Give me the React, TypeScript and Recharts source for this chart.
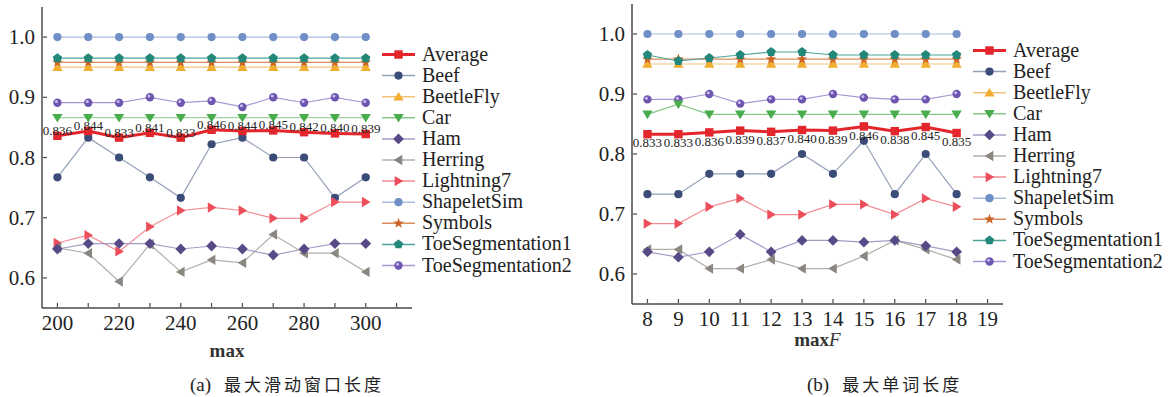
import React from "react";
import { LabelList, Line, LineChart, XAxis, YAxis } from "recharts";

// (a) max sliding window length
const leftX = [200, 210, 220, 230, 240, 250, 260, 270, 280, 290, 300];
const leftAverage = [0.836, 0.844, 0.833, 0.841, 0.833, 0.846, 0.844, 0.845, 0.842, 0.84, 0.839];
const leftBeef = [0.767, 0.833, 0.8, 0.767, 0.733, 0.822, 0.833, 0.8, 0.8, 0.733, 0.767];
const leftBeetleFly = [0.95, 0.95, 0.95, 0.95, 0.95, 0.95, 0.95, 0.95, 0.95, 0.95, 0.95];
const leftCar = [0.866, 0.866, 0.866, 0.866, 0.866, 0.866, 0.866, 0.866, 0.866, 0.866, 0.866];
const leftHam = [0.648, 0.657, 0.657, 0.657, 0.648, 0.653, 0.648, 0.638, 0.648, 0.657, 0.657];
const leftHerring = [0.65, 0.641, 0.594, 0.656, 0.61, 0.63, 0.625, 0.672, 0.641, 0.641, 0.61];
const leftLightning7 = [0.658, 0.671, 0.644, 0.685, 0.712, 0.717, 0.712, 0.699, 0.699, 0.726, 0.726];
const leftShapeletSim = [1, 1, 1, 1, 1, 1, 1, 1, 1, 1, 1];
const leftSymbols = [0.958, 0.958, 0.958, 0.958, 0.958, 0.958, 0.958, 0.958, 0.958, 0.958, 0.958];
const leftToe1 = [0.965, 0.965, 0.965, 0.965, 0.965, 0.965, 0.965, 0.965, 0.965, 0.965, 0.965];
const leftToe2 = [0.891, 0.891, 0.891, 0.9, 0.891, 0.894, 0.884, 0.9, 0.891, 0.9, 0.891];
const leftTicks = [200, 210, 220, 230, 240, 250, 260, 270, 280, 290, 300, 310];
const leftTickLabels = ["200", "", "220", "", "240", "", "260", "", "280", "", "300", ""];

// (b) max word length
const rightX = [8, 9, 10, 11, 12, 13, 14, 15, 16, 17, 18];
const rightAverage = [0.833, 0.833, 0.836, 0.839, 0.837, 0.84, 0.839, 0.846, 0.838, 0.845, 0.835];
const rightBeef = [0.733, 0.733, 0.767, 0.767, 0.767, 0.8, 0.767, 0.822, 0.733, 0.8, 0.733];
const rightBeetleFly = [0.95, 0.95, 0.95, 0.95, 0.95, 0.95, 0.95, 0.95, 0.95, 0.95, 0.95];
const rightCar = [0.866, 0.883, 0.866, 0.866, 0.866, 0.866, 0.866, 0.866, 0.866, 0.866, 0.866];
const rightHam = [0.637, 0.628, 0.637, 0.666, 0.637, 0.656, 0.656, 0.653, 0.656, 0.647, 0.637];
const rightHerring = [0.641, 0.641, 0.609, 0.609, 0.624, 0.609, 0.609, 0.63, 0.656, 0.641, 0.624];
const rightLightning7 = [0.684, 0.684, 0.712, 0.726, 0.699, 0.699, 0.716, 0.716, 0.699, 0.726, 0.712];
const rightShapeletSim = [1, 1, 1, 1, 1, 1, 1, 1, 1, 1, 1];
const rightSymbols = [0.958, 0.958, 0.958, 0.958, 0.958, 0.958, 0.958, 0.958, 0.958, 0.958, 0.958];
const rightToe1 = [0.965, 0.955, 0.96, 0.965, 0.97, 0.97, 0.965, 0.965, 0.965, 0.965, 0.965];
const rightToe2 = [0.891, 0.891, 0.9, 0.884, 0.891, 0.891, 0.9, 0.894, 0.891, 0.891, 0.9];
const rightTicks = [8, 9, 10, 11, 12, 13, 14, 15, 16, 17, 18, 19];

const yTicks = [0.6, 0.7, 0.8, 0.9, 1.0];

const SERIF = "Liberation Serif";
const CJK = "Noto Sans CJK SC";

type Marker = "square" | "circle" | "up" | "down" | "diamond" | "left" | "right" | "star" | "pentagon" | "ball";

const styles: Record<string, { marker: Marker; fill: string; line: string; width: number }> = {
  Average: { marker: "square", fill: "#e3262b", line: "#e3262b", width: 3 },
  Beef: { marker: "circle", fill: "#3b4c78", line: "#93a0b8", width: 1.2 },
  BeetleFly: { marker: "up", fill: "#f0ad2e", line: "#f3c477", width: 1.2 },
  Car: { marker: "down", fill: "#49ad4d", line: "#86c988", width: 1.2 },
  Ham: { marker: "diamond", fill: "#574a86", line: "#a59cc6", width: 1.2 },
  Herring: { marker: "left", fill: "#8a8781", line: "#b3afa9", width: 1.2 },
  Lightning7: { marker: "right", fill: "#ec4f5b", line: "#f28d94", width: 1.2 },
  ShapeletSim: { marker: "circle", fill: "#6f8fc6", line: "#aabde0", width: 1.2 },
  Symbols: { marker: "star", fill: "#cc6426", line: "#da8c5c", width: 1.2 },
  ToeSegmentation1: { marker: "pentagon", fill: "#23877a", line: "#4aa597", width: 1.2 },
  ToeSegmentation2: { marker: "ball", fill: "#6e56b0", line: "#a797d2", width: 1.2 },
};

const names = Object.keys(styles);

function pts(list: number[][], cx: number, cy: number) {
  return list.map(([x, y]) => `${cx + x},${cy + y}`).join(" ");
}

function MarkerShape({ kind, cx, cy, fill }: { kind: Marker; cx: number; cy: number; fill: string }) {
  switch (kind) {
    case "square":
      return <rect x={cx - 4.2} y={cy - 4.2} width={8.4} height={8.4} fill={fill} />;
    case "circle":
      return <circle cx={cx} cy={cy} r={4.1} fill={fill} />;
    case "ball":
      return (
        <g>
          <circle cx={cx} cy={cy} r={4.2} fill={fill} />
          <circle cx={cx - 1} cy={cy - 1.2} r={1.5} fill="#c9bdf0" />
        </g>
      );
    case "up":
      return <polygon points={pts([[0, -4.8], [5.2, 3.8], [-5.2, 3.8]], cx, cy)} fill={fill} />;
    case "down":
      return <polygon points={pts([[0, 4.8], [5.2, -3.8], [-5.2, -3.8]], cx, cy)} fill={fill} />;
    case "left":
      return <polygon points={pts([[-4.8, 0], [3.8, -5.2], [3.8, 5.2]], cx, cy)} fill={fill} />;
    case "right":
      return <polygon points={pts([[4.8, 0], [-3.8, -5.2], [-3.8, 5.2]], cx, cy)} fill={fill} />;
    case "diamond":
      return <polygon points={pts([[0, -5.4], [5.4, 0], [0, 5.4], [-5.4, 0]], cx, cy)} fill={fill} />;
    case "pentagon": {
      const p = [0, 1, 2, 3, 4].map((i) => {
        const a = -Math.PI / 2 + (i * 2 * Math.PI) / 5;
        return [4.9 * Math.cos(a), 4.9 * Math.sin(a)];
      });
      return <polygon points={pts(p, cx, cy)} fill={fill} />;
    }
    case "star": {
      const p = Array.from({ length: 10 }, (_, i) => {
        const a = -Math.PI / 2 + (i * Math.PI) / 5;
        const r = i % 2 === 0 ? 5.5 : 2.3;
        return [r * Math.cos(a), r * Math.sin(a)];
      });
      return <polygon points={pts(p, cx, cy)} fill={fill} />;
    }
  }
  return null;
}

function LegendBox({ left, top }: { left: number; top: number }) {
  return (
    <svg
      width={200}
      height={240}
      style={{ position: "absolute", left, top, overflow: "visible" }}
    >
      {names.map((n, i) => {
        const s = styles[n];
        const cy = 10.5 + i * 21.1;
        return (
          <g key={n}>
            <line x1={0} x2={33} y1={cy} y2={cy} stroke={s.line} strokeWidth={n === "Average" ? 3 : 1.5} />
            <MarkerShape kind={s.marker} cx={16.5} cy={cy} fill={s.fill} />
            <text x={40} y={cy + 6} fontFamily={SERIF} fontSize={20} fill="#222">
              {n}
            </text>
          </g>
        );
      })}
    </svg>
  );
}

function buildRows(xs: number[], cols: Record<string, number[]>) {
  return xs.map((x, i) => {
    const row: Record<string, number> = { x };
    for (const k of Object.keys(cols)) row[k] = cols[k][i];
    return row;
  });
}

const leftRows = buildRows(leftX, {
  Average: leftAverage,
  Beef: leftBeef,
  BeetleFly: leftBeetleFly,
  Car: leftCar,
  Ham: leftHam,
  Herring: leftHerring,
  Lightning7: leftLightning7,
  ShapeletSim: leftShapeletSim,
  Symbols: leftSymbols,
  ToeSegmentation1: leftToe1,
  ToeSegmentation2: leftToe2,
});

const rightRows = buildRows(rightX, {
  Average: rightAverage,
  Beef: rightBeef,
  BeetleFly: rightBeetleFly,
  Car: rightCar,
  Ham: rightHam,
  Herring: rightHerring,
  Lightning7: rightLightning7,
  ShapeletSim: rightShapeletSim,
  Symbols: rightSymbols,
  ToeSegmentation1: rightToe1,
  ToeSegmentation2: rightToe2,
});

const drawOrder = [
  "ShapeletSim",
  "BeetleFly",
  "Symbols",
  "ToeSegmentation1",
  "ToeSegmentation2",
  "Car",
  "Beef",
  "Lightning7",
  "Herring",
  "Ham",
  "Average",
];

function XTick(props: any) {
  const { x, y, payload, fmt } = props;
  const label = fmt(payload.value);
  return (
    <g>
      <line x1={x} x2={x} y1={y - 1} y2={y - 5} stroke="#4a4a4a" strokeWidth={1.2} />
      {label && (
        <text x={x} y={y + 22} textAnchor="middle" fontFamily={SERIF} fontSize={21} fill="#222">
          {label}
        </text>
      )}
    </g>
  );
}

function YTick(props: any) {
  const { x, y, payload } = props;
  return (
    <g>
      <line x1={x + 1} x2={x + 5} y1={y} y2={y} stroke="#4a4a4a" strokeWidth={1.2} />
      <text x={x - 7} y={y + 7} textAnchor="end" fontFamily={SERIF} fontSize={21} fill="#222">
        {Number(payload.value).toFixed(1)}
      </text>
    </g>
  );
}

function Panel({
  rows,
  width,
  margin,
  xDomain,
  xTicks,
  xFormat,
  xLabel,
  labelDy,
  avgPos,
}: {
  rows: Record<string, number>[];
  width: number;
  margin: { top: number; right: number; bottom: number; left: number };
  xDomain: [number, number];
  xTicks: number[];
  xFormat: (v: number) => string;
  xLabel: React.ReactNode;
  labelDy: number;
  avgPos: "top" | "bottom";
}) {
  return (
    <LineChart width={width} height={397} data={rows} margin={margin}>
      <XAxis
        dataKey="x"
        type="number"
        domain={xDomain}
        ticks={xTicks}
        interval={0}
        allowDataOverflow
        height={50}
        stroke="#4a4a4a"
        strokeWidth={1.5}
        tickLine={false}
        tickSize={0}
        tickMargin={0}
        tick={(p: any) => <XTick {...p} fmt={xFormat} />}
        label={{
          content: (p: any) => {
            const vb = p.viewBox || { x: 0, y: 0, width: 0 };
            return (
              <text
                x={vb.x + vb.width / 2}
                y={vb.y + labelDy}
                textAnchor="middle"
                fontFamily={SERIF}
                fontSize={19}
                fontWeight="bold"
                fill="#333"
              >
                {xLabel}
              </text>
            );
          },
        }}
      />
      <YAxis
        type="number"
        domain={[0.55, 1.05]}
        ticks={yTicks}
        width={42}
        allowDataOverflow
        stroke="#4a4a4a"
        strokeWidth={1.5}
        tickLine={false}
        tickSize={0}
        tickMargin={0}
        tick={(p: any) => <YTick {...p} />}
      />
      {drawOrder.map((n) => {
        const s = styles[n];
        return (
          <Line
            key={n}
            dataKey={n}
            name={n}
            type="linear"
            stroke={s.line}
            strokeWidth={s.width}
            isAnimationActive={false}
            dot={(p: any) => (
              <MarkerShape key={`${n}-${p.index}`} kind={s.marker} cx={p.cx} cy={p.cy} fill={s.fill} />
            )}
            activeDot={false}
          >
            {n === "Average" && (
              <LabelList
                dataKey="Average"
                position={avgPos}
                offset={avgPos === "top" ? 1 : 4}
                formatter={(v: any) => Number(v).toFixed(3)}
                style={{ fontFamily: SERIF, fontSize: 13, fill: "#222" }}
              />
            )}
          </Line>
        );
      })}
    </LineChart>
  );
}

export default function App() {
  return (
    <div
      style={{
        position: "fixed",
        left: 0,
        top: 0,
        width: 1175,
        height: 397,
        background: "#fff",
        overflow: "hidden",
      }}
    >
      <div style={{ position: "absolute", left: 0, top: 0 }}>
        <Panel
          rows={leftRows}
          width={590}
          margin={{ top: 7, right: 178, bottom: 39, left: 0 }}
          xDomain={[195, 315]}
          xTicks={leftTicks}
          xFormat={(v: number) => leftTickLabels[leftTicks.indexOf(v)] ?? ""}
          xLabel="max"
          labelDy={49}
          avgPos="top"
        />
      </div>
      <div style={{ position: "absolute", left: 590, top: 0 }}>
        <Panel
          rows={rightRows}
          width={585}
          margin={{ top: 4, right: 172, bottom: 43, left: 0 }}
          xDomain={[7.5, 19.5]}
          xTicks={rightTicks}
          xFormat={(v: number) => String(v)}
          xLabel={
            <>
              <tspan>max</tspan>
              <tspan fontStyle="italic" fontWeight="normal">F</tspan>
            </>
          }
          labelDy={42}
          avgPos="bottom"
        />
      </div>
      <LegendBox left={382} top={44} />
      <LegendBox left={973} top={40} />
      <div
        style={{
          position: "absolute",
          left: 190,
          top: 375,
          fontSize: 17,
          lineHeight: "18px",
          color: "#222",
          whiteSpace: "nowrap",
        }}
      >
        <span style={{ fontFamily: SERIF, fontSize: 19 }}>(a)</span>
        <span style={{ fontFamily: CJK, letterSpacing: 3, marginLeft: 13 }}>最大滑动窗口长度</span>
      </div>
      <div
        style={{
          position: "absolute",
          left: 807,
          top: 375,
          fontSize: 17,
          lineHeight: "18px",
          color: "#222",
          whiteSpace: "nowrap",
        }}
      >
        <span style={{ fontFamily: SERIF, fontSize: 19 }}>(b)</span>
        <span style={{ fontFamily: CJK, letterSpacing: 3, marginLeft: 13 }}>最大单词长度</span>
      </div>
    </div>
  );
}
